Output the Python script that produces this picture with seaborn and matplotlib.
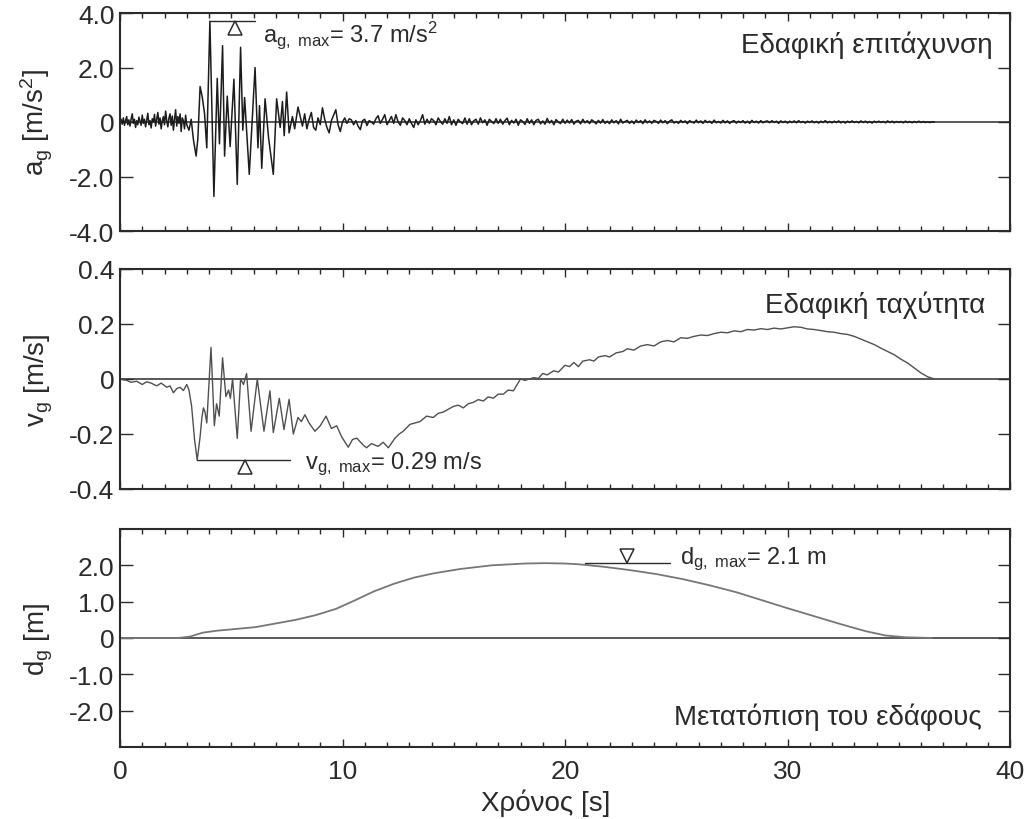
import numpy as np
import pandas as pd
import matplotlib
matplotlib.use("Agg")
import matplotlib.pyplot as plt
import matplotlib.transforms as mtransforms
from matplotlib.ticker import MultipleLocator
import seaborn as sns

# ---------------------------------------------------------------------------
# Ground acceleration a_g [m/s^2]
# quiet onset, sampled every 0.05 s from t = 0
acc_pre_step = 0.05
acc_pre = [0.0, 0.1, -0.08, 0.15, -0.12, 0.05, 0.2, -0.1, 0.08, -0.15,
           0.12, 0.3, -0.05, 0.1, -0.2, 0.05, -0.1, 0.18, 0.02, -0.12,
           0.25, -0.05, 0.1, -0.18, 0.08, 0.32, -0.1, 0.05, -0.22, 0.12,
           0.0, 0.28, -0.15, 0.1, 0.35, -0.08, 0.15, -0.25, 0.05, 0.2,
           -0.1, 0.4, 0.05, -0.18, 0.15, 0.3, -0.12, 0.22, -0.3, 0.1,
           0.45, -0.15, 0.2, -0.05, 0.3, -0.35, 0.15, 0.05, -0.25, 0.25,
           -0.1]
# strong-motion phase
acc_strong_t = [3.1, 3.2, 3.3, 3.42, 3.5, 3.6, 3.7, 3.8, 3.9, 4.04, 4.22,
                4.37, 4.47, 4.61, 4.7, 4.82, 4.95, 5.12, 5.27, 5.42, 5.52,
                5.6, 5.81, 6.07, 6.2, 6.27, 6.37, 6.52, 6.68, 6.89, 7.04,
                7.2, 7.3, 7.38, 7.49, 7.6, 7.75, 7.85, 8.0]
acc_strong = [-0.3, 0.1, -0.65, -1.25, -0.6, 1.3, 0.9, 0.3, -0.95, 3.7, -2.73,
              1.6, -0.8, 2.8, -1.25, 0.95, -0.9, 1.57, -2.29, 2.74, -0.3,
              0.9, -1.92, 2.0, -0.95, 0.6, -1.7, 0.85, -0.6, -1.92, 0.85,
              -0.2, 0.75, -0.5, 1.1, -0.4, 0.2, -0.25, 0.55]
# decaying coda, sampled every 0.1 s from t = 8.1
acc_post_start = 8.1
acc_post_step = 0.1
acc_post = [0.2, -0.15, 0.3, -0.25, 0.1, 0.35, -0.2, -0.3, 0.15, -0.1,
            0.52, 0.1, -0.2, -0.4, 0.05, 0.25, 0.45, -0.1, -0.35, 0.0,
            0.15, -0.05, 0.12, 0.08, -0.1, 0.05, -0.15, -0.28, 0.05, 0.1,
            -0.13, 0.05, 0.0, -0.08, 0.12, 0.23, -0.05, 0.1, 0.27, -0.1,
            0.05, 0.2, -0.05, 0.27, 0.0, -0.12, 0.15, 0.05, -0.1, 0.12,
            -0.05, -0.2, 0.08, -0.1, 0.05, 0.27, -0.08, 0.1, -0.05, 0.12,
            0.05, -0.1, 0.15, 0.02, -0.08, 0.12, -0.05, 0.2, -0.1, 0.08,
            -0.12, 0.1, 0.0, -0.06, 0.15, -0.08, 0.12, -0.1, 0.05, 0.1,
            -0.08, 0.15, -0.03, 0.08, -0.12, 0.1, 0.02, -0.06, 0.12, -0.05,
            0.1, -0.08, 0.05, 0.14, -0.1, 0.06, -0.04, 0.1, -0.12, 0.08,
            0.02, -0.09, 0.12, -0.05, 0.08, -0.1, 0.06, 0.1, -0.07, 0.04,
            -0.08, 0.13, -0.04, 0.06, -0.1, 0.09, 0.0, -0.06, 0.1, -0.05,
            0.07, -0.04, 0.09, -0.08, 0.03, 0.06, -0.07, 0.1, -0.03, 0.05,
            -0.06, 0.08, 0.02, -0.07, 0.06, -0.04, 0.09, -0.05, 0.03, -0.06,
            0.08, -0.03, 0.05, -0.07, 0.1, -0.04, 0.02, 0.06, -0.05, 0.04,
            -0.06, 0.07, -0.02, 0.05, -0.06, 0.08, -0.03, 0.04, -0.05, 0.06,
            0.02, -0.05, 0.07, -0.03, 0.05, -0.06, 0.03, 0.08, -0.04, 0.02,
            -0.05, 0.06, -0.02, 0.04, -0.06, 0.05, 0.0, -0.04, 0.07, -0.03,
            0.04, -0.05, 0.06, -0.02, 0.03, -0.05, 0.07, -0.03, 0.02, -0.04,
            0.06, -0.03, 0.04, -0.05, 0.02, 0.05, -0.04, 0.03, -0.02, 0.05,
            -0.04, 0.03, -0.05, 0.06, -0.02, 0.03, -0.04, 0.05, -0.03, 0.02,
            0.04, -0.03, 0.05, -0.02, 0.03, -0.05, 0.04, -0.02, 0.03, -0.04,
            0.03, -0.02, 0.04, -0.03, 0.05, -0.02, 0.02, -0.04, 0.03, -0.02,
            0.04, -0.03, 0.02, -0.04, 0.03, -0.02, 0.05, -0.03, 0.02, -0.03,
            0.03, -0.02, 0.04, -0.03, 0.02, -0.04, 0.03, -0.02, 0.04, -0.02,
            0.02, -0.03, 0.04, -0.02, 0.03, -0.03, 0.02, -0.04, 0.03, -0.02,
            0.03, -0.02, 0.02, -0.03, 0.04, -0.02, 0.03, -0.03, 0.02, -0.02,
            0.02, -0.03, 0.03, -0.02, 0.02, -0.03, 0.02, -0.02, 0.03, -0.02,
            0.02, -0.02, 0.01, -0.02, 0.01, 0.0]

# ---------------------------------------------------------------------------
# Ground velocity v_g [m/s]
vel_t = [0.0, 0.3, 0.5, 0.75, 1.0, 1.2, 1.4, 1.65, 1.85, 2.1, 2.25, 2.4, 2.55,
         2.7, 2.85, 3.0, 3.1, 3.22, 3.35, 3.47, 3.6, 3.68, 3.75, 3.82, 3.9,
         4.09, 4.24, 4.34, 4.46, 4.61, 4.76, 4.88, 4.96, 5.06, 5.27, 5.42,
         5.55, 5.69, 5.89, 6.17, 6.47, 6.74, 6.89, 7.16, 7.37, 7.6, 7.79,
         8.0, 8.15, 8.31, 8.5, 8.76, 9.0, 9.26, 9.5, 9.74, 9.96, 10.26,
         10.45, 10.64, 10.93, 11.08, 11.3, 11.6, 11.83, 12.06, 12.36, 12.55,
         12.73, 13.03, 13.25, 13.48, 13.78, 14.08, 14.3, 14.53, 14.75, 14.98,
         15.2, 15.43, 15.65, 15.88, 16.1, 16.33, 16.55, 16.78, 17.0, 17.23,
         17.45, 17.68, 17.85, 18.0, 18.2, 18.4, 18.6, 18.8, 19.0, 19.2, 19.5,
         19.7, 20.0, 20.2, 20.4, 20.6, 20.8, 21.1, 21.3, 21.5, 21.8, 22.0,
         22.3, 22.6, 22.8, 23.1, 23.4, 23.7, 24.0, 24.3, 24.6, 24.9, 25.2,
         25.5, 25.8, 26.1, 26.4, 26.7, 27.0, 27.3, 27.6, 27.9, 28.2, 28.5,
         28.8, 29.1, 29.4, 29.7, 30.0, 30.3, 30.6, 30.9, 31.2, 31.5, 31.8,
         32.1, 32.4, 32.7, 33.0, 33.3, 33.6, 33.9, 34.2, 34.5, 34.8, 35.1,
         35.4, 35.7, 36.0, 36.3, 36.6]
vel = [0.0, -0.005, -0.012, -0.008, -0.02, -0.01, -0.015, -0.025, -0.015,
       -0.03, -0.025, -0.05, -0.035, -0.03, -0.042, -0.02, -0.04, -0.1,
       -0.22, -0.295, -0.21, -0.14, -0.105, -0.12, -0.16,
       0.115, -0.17, -0.09, -0.135, 0.077, -0.064, -0.04, -0.07, 0.0,
       -0.216, 0.0, -0.02, 0.02, -0.19, 0.0, -0.19, -0.043, -0.195, -0.07,
       -0.184, -0.074, -0.2,
       -0.14, -0.155, -0.13, -0.16, -0.19, -0.17, -0.135, -0.18, -0.17,
       -0.21, -0.248, -0.22, -0.215, -0.24, -0.25, -0.235, -0.245, -0.23,
       -0.25, -0.215, -0.2, -0.19, -0.165, -0.16, -0.155, -0.135, -0.14,
       -0.125, -0.12, -0.11, -0.1, -0.095, -0.105, -0.09, -0.085, -0.075,
       -0.08, -0.065, -0.07, -0.055, -0.055, -0.04, -0.043, -0.02, 0.0,
       -0.005, 0.0, 0.005, 0.002, 0.02, 0.015, 0.03, 0.025, 0.05, 0.045,
       0.06, 0.045, 0.065, 0.07, 0.065, 0.08, 0.085, 0.08, 0.095, 0.1, 0.11,
       0.105, 0.12, 0.125, 0.12, 0.135, 0.14, 0.135, 0.15, 0.148, 0.155,
       0.16, 0.158, 0.165, 0.17, 0.168, 0.175, 0.172, 0.18, 0.178, 0.183,
       0.18, 0.185, 0.182, 0.186, 0.19, 0.188, 0.182, 0.18, 0.176, 0.172,
       0.17, 0.165, 0.162, 0.155, 0.145, 0.135, 0.125, 0.112, 0.1, 0.088,
       0.072, 0.058, 0.04, 0.022, 0.008, 0.0]

# ---------------------------------------------------------------------------
# Ground displacement d_g [m]
disp_t = [0.0, 1.0, 2.0, 2.6, 3.16, 3.46, 3.75, 4.34, 5.23, 6.1, 7.0, 7.9,
          8.8, 9.7, 10.5, 11.4, 12.3, 13.2, 14.1, 15.3, 16.7, 18.2, 19.1,
          20.0, 20.6, 21.75, 22.9, 24.1, 25.3, 26.5, 27.7, 28.8, 30.0, 31.2,
          32.4, 33.5, 34.4, 35.3, 36.5]
disp = [0.0, 0.0, 0.0, 0.0, 0.04, 0.1, 0.15, 0.2, 0.25, 0.3, 0.4, 0.5,
        0.63, 0.8, 1.02, 1.28, 1.49, 1.66, 1.78, 1.9, 2.0, 2.05, 2.06,
        2.05, 2.03, 1.96, 1.87, 1.76, 1.62, 1.45, 1.26, 1.05, 0.82, 0.6,
        0.38, 0.19, 0.07, 0.02, 0.0]

# axis ticks and texts
x_ticks = [0, 10, 20, 30, 40]
acc_ticks = [-4, -2, 0, 2, 4]
acc_tick_labels = ["-4.0", "-2.0", "0", "2.0", "4.0"]
vel_ticks = [-0.4, -0.2, 0, 0.2, 0.4]
vel_tick_labels = ["-0.4", "-0.2", "0", "0.2", "0.4"]
disp_ticks = [-2, -1, 0, 1, 2]
disp_tick_labels = ["-2.0", "-1.0", "0", "1.0", "2.0"]

title_acc = "Εδαφική επιτάχυνση"
title_vel = "Εδαφική ταχύτητα"
title_disp = "Μετατόπιση του εδάφους"
x_label = "Χρόνος [s]"

# ---------------------------------------------------------------------------
sns.set_theme(style="ticks")
plt.rcParams["font.family"] = ["Liberation Sans", "DejaVu Sans"]
plt.rcParams["mathtext.fontset"] = "custom"
plt.rcParams["mathtext.rm"] = "Liberation Sans"
plt.rcParams["mathtext.it"] = "Liberation Sans"
plt.rcParams["mathtext.bf"] = "Liberation Sans:bold"

INK = "#2b2b2b"
FS_TICK = 19
FS_LABEL = 20
FS_TITLE = 20
FS_NOTE = 17

acc_df = pd.concat([
    pd.DataFrame({"t": np.arange(len(acc_pre)) * acc_pre_step, "v": acc_pre}),
    pd.DataFrame({"t": acc_strong_t, "v": acc_strong}),
    pd.DataFrame({"t": acc_post_start + np.arange(len(acc_post)) * acc_post_step,
                  "v": acc_post}),
], ignore_index=True)
vel_df = pd.DataFrame({"t": vel_t, "v": vel})
disp_df = pd.DataFrame({"t": disp_t, "v": disp})

fig = plt.figure(figsize=(10.3, 8.2), dpi=100)
ax_l, ax_w = 120 / 1030, 890 / 1030
ax1 = fig.add_axes([ax_l, 1 - 232 / 820, ax_w, 218 / 820])
ax2 = fig.add_axes([ax_l, 1 - 490 / 820, ax_w, 220 / 820])
ax3 = fig.add_axes([ax_l, 1 - 748 / 820, ax_w, 218 / 820])

sns.lineplot(data=acc_df, x="t", y="v", ax=ax1, color="#1c1c1c", lw=1.1,
             estimator=None, sort=False)
sns.lineplot(data=vel_df, x="t", y="v", ax=ax2, color="#505050", lw=1.0,
             estimator=None, sort=False)
sns.lineplot(data=disp_df, x="t", y="v", ax=ax3, color="#777777", lw=1.3,
             estimator=None, sort=False)

panels = [
    (ax1, (-4, 4), acc_ticks, acc_tick_labels, r"$\mathrm{a_g\ [m/s^2]}$",
     title_acc, 0.981, 0.858),
    (ax2, (-0.4, 0.4), vel_ticks, vel_tick_labels, r"$\mathrm{v_g\ [m/s]}$",
     title_vel, 0.972, 0.84),
    (ax3, (-3, 3), disp_ticks, disp_tick_labels, r"$\mathrm{d_g\ [m]}$",
     title_disp, 0.968, 0.142),
]
for ax, ylim, yt, ytl, ylab, title, tx, ty in panels:
    ax.set_xlim(0, 40)
    ax.set_ylim(*ylim)
    ax.axhline(0, color=INK, lw=1.1, zorder=1)
    ax.set_yticks(yt)
    ax.set_yticklabels(ytl)
    ax.set_xticks(x_ticks)
    ax.xaxis.set_minor_locator(MultipleLocator(1))
    ax.tick_params(axis="both", which="both", direction="in", top=True,
                   right=True, colors=INK, labelsize=FS_TICK, width=1.0)
    ax.tick_params(axis="y", which="major", length=9, pad=4)
    ax.tick_params(axis="x", which="major", length=6)
    ax.tick_params(axis="x", which="minor", length=3.5)
    ax.set_ylabel(ylab, fontsize=FS_LABEL, color=INK)
    ax.yaxis.set_label_coords(-0.073, 0.5)
    ax.set_xlabel("")
    for sp in ax.spines.values():
        sp.set_linewidth(1.5)
        sp.set_color(INK)
    ax.text(tx, ty, title, transform=ax.transAxes, ha="right",
            va="center", fontsize=FS_TITLE, color=INK)

ax1.tick_params(axis="x", labelbottom=False)
ax2.tick_params(axis="x", labelbottom=False)
ax3.set_xticklabels([str(v) for v in x_ticks])
ax3.tick_params(axis="x", pad=9)
ax3.set_xlabel(x_label, fontsize=FS_LABEL, color=INK, labelpad=1)
ax3.xaxis.set_label_coords(0.478, -0.19)


def peak_marker(ax, x, y, marker, dy_pt):
    tr = mtransforms.offset_copy(ax.transData, fig=fig, y=dy_pt, units="points")
    ax.plot([x], [y], marker=marker, ms=10, mfc="white", mec=INK, mew=1.1,
            transform=tr, zorder=5)


# peak acceleration
i_a = int(np.argmax(acc_df["v"]))
a_max, a_t = acc_df["v"][i_a], acc_df["t"][i_a]
ax1.plot([a_t, 6.07], [a_max, a_max], color=INK, lw=1.0)
peak_marker(ax1, 5.17, a_max, "^", -5)
ax1.text(6.43, 2.97, r"$\mathrm{a_{g,\ max}}$" + f"= {a_max:.1f} m/s" + r"$^\mathrm{2}$",
         fontsize=FS_NOTE, color=INK, va="baseline")

# peak velocity
i_v = int(np.argmin(vel_df["v"]))
v_min, v_t = vel_df["v"][i_v], vel_df["t"][i_v]
ax2.plot([v_t, 7.64], [v_min, v_min], color=INK, lw=1.0)
peak_marker(ax2, 5.6, v_min, "^", -5)
ax2.text(8.3, -0.323, r"$\mathrm{v_{g,\ max}}$" + f"= {abs(v_min):.2f} m/s",
         fontsize=FS_NOTE, color=INK, va="baseline")

# peak displacement
d_max = disp_df["v"].max()
ax3.plot([20.9, 24.7], [d_max, d_max], color=INK, lw=1.0)
peak_marker(ax3, 22.8, d_max, "v", 5)
ax3.text(25.15, d_max, r"$\mathrm{d_{g,\ max}}$" + f"= {d_max:.1f} m",
         fontsize=FS_NOTE, color=INK, va="baseline")

fig.savefig("out.png", dpi=100, facecolor="white")
